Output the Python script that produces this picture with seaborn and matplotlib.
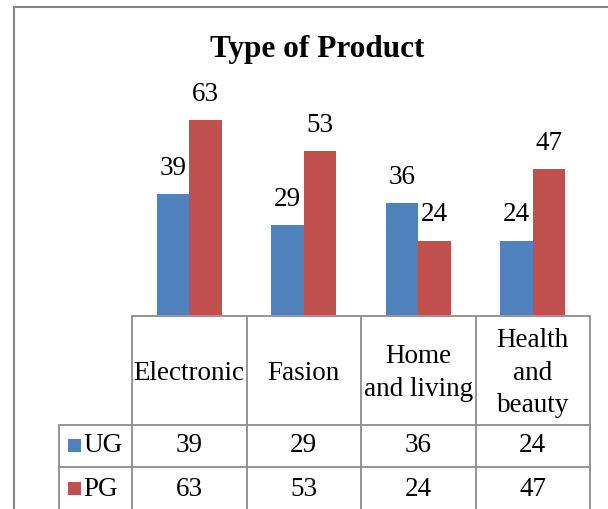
import pandas as pd
import numpy as np
import matplotlib.pyplot as plt
import matplotlib.transforms as mtransforms
from matplotlib.patches import Rectangle
import seaborn as sns

categories = ["Electronic", "Fasion", "Home and living", "Health and beauty"]
header_labels = ["Electronic", "Fasion", "Home\nand living", "Health\nand\nbeauty"]
groups = ["UG", "PG"]
ug_values = [39, 29, 36, 24]
pg_values = [63, 53, 24, 47]
colors = ["#4F81BD", "#C0504D"]

W, H = 608, 509


def fx(px):
    return px / W


def fy(py):
    return 1 - py / H


def main():
    sns.set_style("white")
    plt.rcParams["font.family"] = ["Liberation Serif", "DejaVu Serif"]
    plt.rcParams["text.color"] = "black"

    df = pd.DataFrame({
        "category": categories * 2,
        "group": ["UG"] * 4 + ["PG"] * 4,
        "value": ug_values + pg_values,
    })

    fig = plt.figure(figsize=(W / 100, H / 100), dpi=100)
    fig.patch.set_facecolor("white")
    # plot area in pixels: x 132..590, baseline at 315, top at 98
    ax = fig.add_axes([fx(132), fy(315), (590 - 132) / W, (315 - 98) / H])
    sns.barplot(data=df, x="category", y="value", hue="group", order=categories,
                hue_order=groups, palette=colors, width=0.57, saturation=1,
                linewidth=0, legend=False, ax=ax)
    ax.set_xlim(-0.5, 3.5)
    ax.set_ylim(0, 70)
    ax.set_axis_off()

    fs = 19.5
    for container in ax.containers:
        for bar in container:
            h = bar.get_height()
            ax.annotate("{:.0f}".format(h), (bar.get_x() + bar.get_width() / 2, h),
                        xytext=(0, 18.5), textcoords="offset points",
                        ha="center", va="center", fontsize=fs)

    fig.text(fx(317), fy(49), "Type of Product", ha="center", va="center",
             fontsize=22.5, fontweight="bold")

    # data table under the bars
    line_kw = dict(color="#8c8c8c", lw=1.3, clip_on=False)
    trans = mtransforms.blended_transform_factory(ax.transData, fig.transFigure)
    edges = np.arange(len(categories) + 1) - 0.5
    for e in edges:
        ax.plot([e, e], [fy(316), fy(520)], transform=trans, **line_kw)
    ax.plot([edges[0], edges[-1]], [fy(316), fy(316)], transform=trans, **line_kw)
    for yline in [425, 467]:
        fig.add_artist(plt.Line2D([fx(59), fx(590)], [fy(yline), fy(yline)],
                                  transform=fig.transFigure, **line_kw))
    fig.add_artist(plt.Line2D([fx(59), fx(59)], [fy(425), fy(520)],
                              transform=fig.transFigure, **line_kw))

    for i, lab in enumerate(header_labels):
        ax.text(i, fy(373), lab, transform=trans, ha="center", va="center",
                fontsize=fs, linespacing=1.42)

    row_y = [446, 489]
    for vals, g, c, ry in zip([ug_values, pg_values], groups, colors, row_y):
        fig.add_artist(Rectangle((fx(68), fy(ry + 6)), 13 / W, 13 / H,
                                 transform=fig.transFigure, facecolor=c, edgecolor="none"))
        fig.text(fx(83), fy(ry), g, ha="left", va="center", fontsize=fs)
        for i, v in enumerate(vals):
            ax.text(i, fy(ry), str(v), transform=trans, ha="center", va="center", fontsize=fs)

    # outer chart frame
    fig.add_artist(Rectangle((fx(14), fy(560)), 1, (560 - 7) / H, transform=fig.transFigure,
                             fill=False, edgecolor="#868686", lw=1.5))

    fig.savefig("out.png", dpi=100)


if __name__ == "__main__":
    main()
